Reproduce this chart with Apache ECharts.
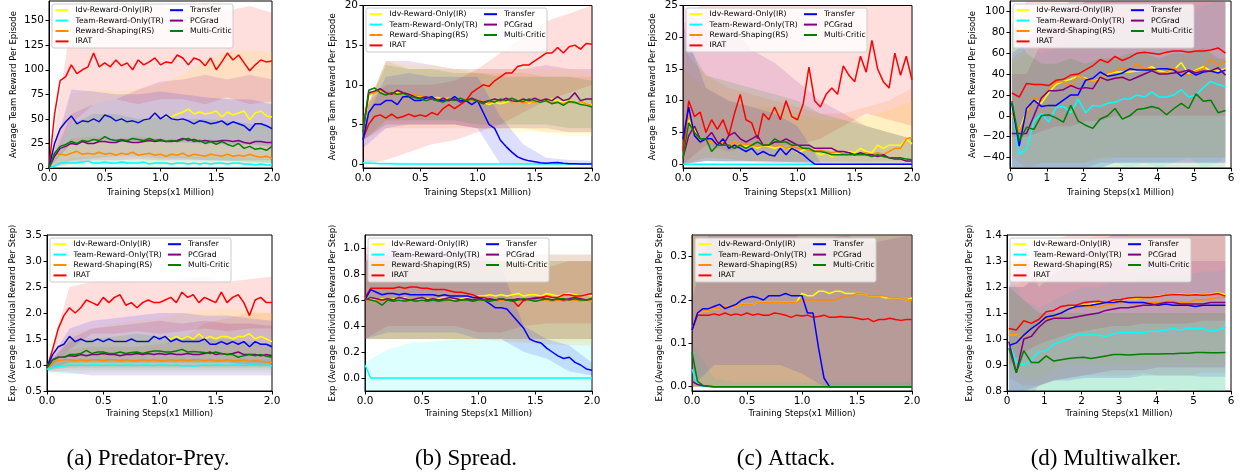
<!DOCTYPE html>
<html>
<head>
<meta charset="utf-8">
<script src="https://cdn.jsdelivr.net/npm/echarts@6/dist/echarts.min.js"></script>
<style>
  html, body { margin: 0; padding: 0; background: #fff; }
  #chart { width: 1241px; height: 474px; }
</style>
</head>
<body>
<div id="chart"></div>
<script>
const METHODS = ["Idv-Reward-Only(IR)", "Team-Reward-Only(TR)", "Reward-Shaping(RS)", "IRAT", "Transfer", "PCGrad", "Multi-Critic"];
const COLORS = ["#ffff00", "#00ffff", "#ff8c00", "#ff0000", "#0000ff", "#800080", "#008000"];

const TEAM_NAME = "Average Team Reward Per Episode";
const IND_NAME = "Exp (Average Individual Reward Per Step)";
const X_NAME = "Training Steps(x1 Million)";
const CAPTIONS = ["(a) Predator-Prey.", "(b) Spread.", "(c) Attack.", "(d) Multiwalker."];

// x positions (million steps)
const STEPS_2M = [0, 0.05, 0.1, 0.15, 0.2, 0.25, 0.3, 0.35, 0.4, 0.45, 0.5, 0.55, 0.6, 0.65, 0.7, 0.75, 0.8, 0.85, 0.9, 0.95, 1.0, 1.05, 1.1, 1.15, 1.2, 1.25, 1.3, 1.35, 1.4, 1.45, 1.5, 1.55, 1.6, 1.65, 1.7, 1.75, 1.8, 1.85, 1.9, 1.95, 2.0];
const STEPS_6M = [0.05, 0.25, 0.45, 0.65, 0.85, 1.05, 1.25, 1.45, 1.65, 1.85, 2.05, 2.25, 2.45, 2.65, 2.85, 3.05, 3.25, 3.45, 3.65, 3.85, 4.05, 4.25, 4.45, 4.65, 4.85, 5.05, 5.25, 5.45, 5.65, 5.85];
const BAND_2M = [0, 0.2, 0.4, 0.6, 0.8, 1.0, 1.2, 1.4, 1.6, 1.8, 2.0];
const BAND_6M = [0.05, 0.45, 0.85, 1.25, 1.65, 2.05, 2.45, 2.85, 3.25, 3.65, 4.05, 4.45, 4.85, 5.25, 5.65, 5.85];

// tick labels
const X_TICKS_2M = [0, 0.5, 1.0, 1.5, 2.0];
const X_TICKS_6M = [0, 1, 2, 3, 4, 5, 6];
const PP_TEAM_TICKS = [0, 25, 50, 75, 100, 125, 150];
const SPREAD_TEAM_TICKS = [0, 5, 10, 15, 20];
const ATTACK_TEAM_TICKS = [0, 5, 10, 15, 20, 25];
const WALKER_TEAM_TICKS = [-40, -20, 0, 20, 40, 60, 80, 100];
const PP_IND_TICKS = [0.5, 1.0, 1.5, 2.0, 2.5, 3.0, 3.5];
const SPREAD_IND_TICKS = [0, 0.2, 0.4, 0.6, 0.8, 1.0];
const ATTACK_IND_TICKS = [0, 0.1, 0.2, 0.3];
const WALKER_IND_TICKS = [0.8, 0.9, 1.0, 1.1, 1.2, 1.3, 1.4];

// ---- (a) Predator-Prey, team reward ----
const ppTeamMean = [
  [0, 25, 40, 47, 53, 45, 48, 47, 50, 47, 54, 52, 48, 50, 47, 48, 46, 49, 50, 56, 50, 53, 52, 55, 57, 60, 55, 57, 55, 56, 58, 52, 57, 54, 56, 58, 49, 56, 58, 53, 52],
  [0, 2, 5, 5, 5, 5, 6, 7, 5, 5, 6, 5, 5, 6, 5, 5, 5, 6, 4, 5, 5, 5, 4, 5, 5, 4, 5, 4, 5, 4, 5, 5, 4, 5, 5, 4, 4, 3, 4, 3, 3],
  [0, 15, 14, 13, 15, 17, 14, 15, 14, 16, 14, 15, 13, 15, 14, 16, 13, 14, 15, 13, 14, 12, 14, 13, 15, 12, 14, 13, 12, 14, 13, 12, 14, 12, 13, 12, 14, 12, 11, 12, 10],
  [0, 55, 89, 93, 105, 96, 100, 103, 117, 103, 107, 103, 110, 104, 107, 100, 110, 105, 108, 112, 105, 108, 107, 115, 112, 105, 112, 110, 104, 112, 100, 108, 117, 110, 115, 107, 99, 105, 110, 108, 109],
  [0, 25, 40, 47, 53, 45, 48, 47, 50, 47, 54, 52, 48, 50, 47, 48, 46, 49, 50, 56, 50, 54, 50, 49, 50, 48, 45, 48, 47, 45, 46, 48, 44, 47, 45, 43, 38, 45, 45, 43, 40],
  [0, 12, 20, 22, 25, 24, 27, 25, 25, 27, 27, 26, 26, 28, 27, 26, 26, 27, 28, 27, 28, 27, 27, 28, 30, 28, 29, 27, 28, 27, 27, 28, 28, 27, 28, 26, 25, 27, 27, 26, 26],
  [0, 15, 22, 24, 27, 25, 28, 27, 29, 28, 32, 29, 28, 29, 28, 30, 29, 28, 30, 28, 29, 27, 28, 27, 29, 30, 27, 28, 25, 27, 24, 27, 24, 22, 25, 20, 22, 19, 20, 18, 22]
];
const ppTeamLow = [
  [0, 25, 28, 30, 30, 28, 28, 30, 30, 28, 28],
  [0, 0, 0, 0, 0, 0, 0, 0, 0, 0, 0],
  [0, 3, 4, 4, 4, 3, 3, 3, 3, 3, 2],
  [0, 45, 65, 70, 65, 70, 70, 65, 72, 65, 68],
  [0, 25, 28, 28, 27, 27, 26, 25, 24, 24, 22],
  [0, 5, 8, 8, 9, 8, 8, 8, 7, 8, 8],
  [0, 8, 10, 12, 12, 10, 10, 8, 8, 6, 5]
];
const ppTeamHigh = [
  [0, 75, 80, 78, 80, 85, 95, 110, 118, 120, 118],
  [0, 10, 12, 12, 12, 11, 12, 11, 12, 10, 9],
  [0, 30, 32, 30, 32, 30, 30, 30, 28, 28, 25],
  [0, 150, 160, 158, 162, 165, 160, 168, 160, 165, 158],
  [0, 80, 78, 75, 75, 78, 75, 72, 70, 70, 65],
  [0, 55, 65, 70, 80, 88, 90, 95, 90, 95, 90],
  [0, 45, 55, 55, 50, 52, 50, 50, 48, 45, 42]
];

// ---- (b) Spread, team reward ----
const spreadTeamMean = [
  [4, 8.5, 9.3, 9.2, 9.0, 8.8, 9.0, 8.8, 8.8, 8.5, 8.5, 8.4, 8.3, 8.4, 8.2, 8.3, 8.0, 8.2, 8.0, 8.1, 8.0, 7.8, 7.5, 7.8, 7.6, 7.8, 8.0, 7.9, 8.1, 7.7, 8.0, 7.9, 8.0, 8.2, 8.0, 7.8, 8.0, 7.8, 7.9, 7.6, 7.5],
  [0.15, 0.1, 0.1, 0.05, 0.05, 0.05, 0, 0, 0, 0, 0, 0, 0, 0, 0, 0, 0, 0, 0, 0, 0, 0, 0, 0, 0, 0, 0, 0, 0, 0, 0, 0, 0, 0, 0, 0, 0, 0, 0, 0, 0],
  [4, 8.8, 9.0, 9.3, 9.0, 8.8, 8.7, 9.0, 8.8, 8.7, 8.6, 8.4, 8.3, 8.2, 8.0, 8.2, 8.1, 8.0, 8.2, 8.0, 8.1, 7.9, 7.8, 7.9, 8.0, 8.2, 7.8, 8.0, 7.7, 7.9, 7.8, 8.0, 7.9, 7.7, 7.8, 7.6, 7.8, 7.7, 7.9, 7.6, 7.4],
  [3.2, 5.0, 6.0, 6.2, 5.8, 6.3, 5.8, 6.0, 6.3, 6.0, 6.2, 6.0, 6.5, 6.2, 7.0, 7.5, 7.0, 7.5, 8.0, 9.0, 9.5, 10.0, 9.8, 10.5, 11.0, 11.5, 11.5, 12.3, 12.5, 12.5, 13.0, 13.5, 14.0, 14.0, 14.7, 14.0, 14.8, 15.0, 14.5, 15.2, 15.1],
  [3, 6.5, 7.5, 7.5, 8.0, 8.0, 7.5, 8.5, 8.5, 8.0, 8.0, 8.3, 8.5, 8.0, 8.0, 8.0, 8.5, 8.0, 8.0, 7.5, 8.0, 6.5, 5.0, 4.5, 3.0, 2.2, 1.5, 0.9, 0.6, 0.4, 0.3, 0.15, 0.1, 0.15, 0.2, 0.1, 0.05, 0.05, 0, 0, 0],
  [4, 9.0, 9.2, 9.5, 9.0, 8.8, 9.3, 9.0, 8.8, 8.5, 8.3, 8.5, 8.2, 8.0, 8.3, 8.0, 8.2, 7.8, 8.0, 8.3, 8.0, 7.8, 8.0, 8.2, 8.0, 8.3, 8.0, 7.9, 8.2, 8.0, 8.3, 8.0, 8.2, 8.0, 8.5, 8.0, 8.2, 9.0, 8.0, 8.2, 8.2],
  [4, 9.3, 9.6, 9.0, 8.7, 9.0, 8.8, 8.9, 8.6, 8.4, 8.2, 8.0, 8.2, 8.0, 7.8, 8.2, 8.0, 8.3, 8.0, 8.2, 7.9, 7.6, 8.0, 7.8, 8.2, 8.0, 8.3, 8.0, 7.9, 8.2, 8.0, 7.8, 8.0, 7.6, 7.8, 7.4, 7.9, 7.8, 7.5, 7.4, 7.2]
];
const spreadTeamLow = [
  [3, 5, 5, 5, 5, 4.5, 4, 4, 4, 3.5, 3.5],
  [0, 0, 0, 0, 0, 0, 0, 0, 0, 0, 0],
  [3, 4.5, 4.5, 4.5, 4.5, 4.5, 4.5, 4.5, 4, 4, 4],
  [0, 0.5, 1.5, 2.5, 3, 4, 5, 6.5, 8, 9, 10],
  [2, 4.5, 5, 5, 5, 4.5, 0, 0, 0, 0, 0],
  [3, 5, 5, 5, 5, 4.5, 4.5, 4.5, 4.5, 4, 4],
  [3, 5.5, 5.5, 5.5, 5.5, 5, 5, 5, 5, 4.5, 4.5]
];
const spreadTeamHigh = [
  [6, 13, 12.5, 12.5, 12, 12, 12, 12, 12, 12, 11.5],
  [0.6, 0.3, 0.2, 0.1, 0.1, 0.1, 0.1, 0.1, 0.1, 0.1, 0.1],
  [6, 13, 12, 12, 12, 11.5, 11.5, 11.5, 11, 11, 11],
  [7, 10, 10, 10, 10.5, 12, 14, 16, 18, 19, 20],
  [5, 11, 11.5, 11, 11, 11, 6, 2.5, 0.8, 0.5, 0.4],
  [6, 13, 13, 12.5, 12, 12, 12, 12, 12.5, 12, 12],
  [6, 12.5, 12, 12, 11.5, 11.5, 11, 11, 11, 11, 10.5]
];

// ---- (c) Attack, team reward ----
const attackTeamMean = [
  [1, 7, 5.5, 4, 4, 3.5, 3.5, 3.5, 3, 3.5, 3, 2.8, 3, 2.5, 3, 2.8, 2.5, 2.8, 2.5, 2.5, 1.8, 2.2, 2.5, 2, 1.5, 1.8, 1.2, 1.8, 1.5, 2, 1.8, 2.5, 2, 1.8, 3, 2.5, 3, 3, 3, 4, 3.2],
  [0, 0, 0, 0, 0, 0, 0, 0, 0, 0, 0, 0, 0, 0, 0, 0, 0, 0, 0, 0, 0, 0, 0, 0, 0, 0, 0, 0, 0, 0, 0, 0, 0, 0, 0, 0, 0, 0, 0, 0, 0],
  [2, 8, 5, 3.5, 4, 3.5, 3.5, 3.5, 3, 3.5, 3, 3.2, 3, 2.8, 3, 3.2, 2.8, 3, 2.5, 2.8, 2.5, 2.5, 2.2, 2, 2.2, 2, 1.8, 2, 1.6, 1.8, 1.5, 1.6, 1.8, 1.5, 1.8, 1.5, 2, 2.5, 2.5, 4, 4.2],
  [2, 10, 7.5, 8.2, 5, 7, 5.5, 7, 4.5, 8, 11, 7, 6.5, 4, 8, 7, 9, 7, 10, 7.5, 7, 9.5, 15.3, 10, 9, 11, 12, 11, 15.5, 14, 13, 17, 14.5, 19.5, 15, 13, 12, 17.5, 14, 17, 13.3],
  [4, 9, 4.5, 3.5, 4, 4, 3, 4, 2.5, 3, 2.5, 2, 2.5, 1.5, 2, 1.5, 1.3, 2.5, 1.5, 2.5, 2, 1.5, 0.7, 0, 0, 0, 0, 0, 0, 0, 0, 0, 0, 0, 0, 0, 0, 0, 0, 0, 0],
  [1, 4.5, 6, 4, 4, 5, 3.5, 3, 4.5, 5, 4, 3.5, 4, 4.5, 3, 3, 3.5, 3.5, 4, 3.5, 3, 3, 3, 2.5, 2.5, 2.5, 2.5, 2, 2, 1.8, 1.5, 1.8, 1.5, 1.5, 1.2, 1.5, 1, 0.8, 0.8, 0.5, 0.5],
  [1, 6.5, 5, 4, 4, 2, 3, 3, 3, 2.5, 3, 2.5, 3, 3.5, 3, 3, 4, 3.5, 3.5, 3, 3, 2.5, 2.5, 2, 2, 1.8, 1.5, 1.5, 1.5, 1.5, 1.5, 1.5, 1.5, 1.2, 1.5, 1.2, 1, 1, 1, 0.8, 0.7]
];
const attackTeamLow = [
  [0, 1, 0.8, 0.5, 0.5, 0.5, 0.4, 0.4, 0.4, 0.5, 0.5],
  [0, 0, 0, 0, 0, 0, 0, 0, 0, 0, 0],
  [0, 1, 0.8, 0.5, 0.5, 0.4, 0.4, 0.4, 0.4, 0.5, 0.5],
  [0, 3, 2, 3, 3, 3, 4, 6, 8, 7, 6],
  [0, 0.5, 0.3, 0.3, 0.2, 0.1, 0, 0, 0, 0, 0],
  [0, 0.5, 0.5, 0.5, 0.4, 0.3, 0.2, 0.2, 0.1, 0.1, 0.1],
  [0, 0.5, 0.5, 0.5, 0.4, 0.3, 0.3, 0.2, 0.2, 0.1, 0.1]
];
const attackTeamHigh = [
  [15, 12, 10, 9, 9, 8, 7, 7, 7.5, 8.5, 10],
  [0.3, 0.1, 0.1, 0.1, 0.1, 0.1, 0.1, 0.1, 0.1, 0.1, 0.1],
  [18, 14, 12, 11, 10, 9, 8, 8, 9, 10, 12],
  [22, 26, 27, 27, 27, 27, 28, 29, 30, 30, 30],
  [22, 12, 10, 9, 8, 6, 0.3, 0.1, 0.1, 0.1, 0.1],
  [25, 21, 22, 18, 16, 13, 10, 8, 6, 5, 4],
  [20, 14, 13, 12, 11, 10, 8, 7, 6, 5, 4]
];

// ---- (d) Multiwalker, team reward ----
const walkerTeamMean = [
  [2, -15, 5, 15, 12, 22, 30, 33, 35, 38, 36, 33, 35, 40, 42, 42, 42, 43, 44, 47, 43, 42, 44, 51, 40, 44, 47, 43, 43, 45],
  [12, -37, -32, -5, 2, -6, 8, 9, 3, 16, 3, 10, 9, 12, 13, 16, 16, 20, 18, 23, 18, 18, 20, 25, 18, 20, 27, 33, 30, 28],
  [3, -15, 0, 17, 15, 25, 32, 33, 28, 39, 35, 33, 34, 41, 43, 46, 44, 50, 45, 45, 40, 42, 46, 42, 39, 43, 45, 54, 49, 52],
  [22, 18, 31, 30, 30, 29, 34, 35, 39, 40, 44, 48, 54, 51, 57, 53, 56, 60, 61, 60, 59, 61, 62, 62, 61, 62, 62, 63, 65, 60],
  [12, -29, 7, 15, 9, 10, 10, 15, 20, 20, 34, 36, 42, 38, 39, 41, 45, 44, 44, 44, 45, 45, 44, 38, 43, 39, 42, 43, 41, 44],
  [-17, -17, -17, 0, 17, 24, 24, 25, 29, 26, 27, 26, 37, 34, 36, 37, 34, 37, 40, 43, 40, 40, 41, 42, 44, 41, 43, 43, 46, 39],
  [14, -24, -11, -13, 0, 1, -2, -6, 10, -5, -9, -12, -3, 0, 7, -3, 0, 6, 7, 9, 7, 1, 7, 12, 7, 21, 14, 15, 3, 5]
];
const walkerTeamLow = [
  [-30, -45, -45, -45, -45, -45, -45, -40, -40, -40, -40, -40, -40, -40, -40, -40],
  [-60, -80, -70, -60, -55, -50, -50, -45, -50, -45, -50, -45, -40, -50, -45, -40],
  [-40, -50, -45, -45, -45, -45, -40, -40, -40, -40, -40, -40, -40, -40, -40, -40],
  [-20, -20, -15, -10, -10, -5, -5, 0, 0, 0, 0, 0, 0, 0, 0, 0],
  [-50, -60, -55, -50, -50, -50, -50, -45, -45, -45, -45, -45, -45, -45, -45, -45],
  [-60, -60, -55, -50, -50, -50, -45, -45, -45, -45, -45, -45, -45, -45, -45, -45],
  [-60, -60, -60, -60, -60, -60, -60, -60, -60, -60, -60, -60, -60, -60, -60, -60]
];
const walkerTeamHigh = [
  [50, 60, 80, 100, 110, 115, 120, 120, 120, 120, 120, 120, 120, 120, 120, 120],
  [90, 70, 60, 65, 70, 75, 80, 85, 90, 95, 95, 100, 100, 105, 110, 110],
  [55, 65, 80, 90, 100, 110, 115, 120, 120, 120, 120, 120, 120, 120, 120, 120],
  [80, 110, 120, 120, 120, 120, 120, 120, 120, 120, 120, 120, 120, 120, 120, 120],
  [60, 70, 90, 100, 110, 120, 120, 120, 120, 120, 120, 120, 120, 120, 120, 120],
  [40, 40, 70, 90, 100, 110, 115, 120, 120, 120, 120, 120, 120, 120, 120, 120],
  [90, 60, 50, 50, 55, 50, 55, 55, 60, 60, 55, 60, 60, 65, 55, 55]
];

// ---- (a) Predator-Prey, exp individual reward ----
const ppIndMean = [
  [0.95, 1.2, 1.35, 1.4, 1.55, 1.45, 1.5, 1.45, 1.45, 1.5, 1.45, 1.5, 1.45, 1.45, 1.45, 1.5, 1.45, 1.45, 1.45, 1.55, 1.5, 1.55, 1.5, 1.55, 1.5, 1.55, 1.5, 1.6, 1.5, 1.55, 1.5, 1.55, 1.55, 1.5, 1.55, 1.55, 1.6, 1.5, 1.55, 1.5, 1.45],
  [0.92, 0.95, 0.97, 0.98, 1.0, 0.99, 1.0, 0.99, 1.0, 1.0, 0.99, 1.0, 1.0, 0.99, 1.0, 1.0, 0.99, 1.0, 1.0, 0.99, 1.0, 1.0, 0.99, 1.0, 0.98, 0.99, 0.98, 0.99, 1.0, 0.99, 1.0, 1.0, 0.99, 1.0, 1.0, 0.99, 1.0, 1.0, 0.99, 1.0, 0.98],
  [0.95, 1.05, 1.08, 1.1, 1.1, 1.08, 1.1, 1.08, 1.1, 1.1, 1.08, 1.1, 1.1, 1.08, 1.1, 1.08, 1.08, 1.1, 1.08, 1.1, 1.08, 1.08, 1.1, 1.08, 1.1, 1.08, 1.1, 1.1, 1.08, 1.1, 1.08, 1.08, 1.1, 1.08, 1.08, 1.1, 1.07, 1.08, 1.07, 1.06, 1.05],
  [0.95, 1.3, 1.7, 1.95, 2.1, 2.0, 2.1, 2.25, 2.2, 2.15, 2.3, 2.2, 2.3, 2.35, 2.15, 2.2, 2.1, 2.2, 2.25, 2.2, 2.2, 2.25, 2.3, 2.2, 2.4, 2.3, 2.35, 2.2, 2.3, 2.25, 2.2, 2.4, 2.2, 2.3, 2.35, 2.2, 1.95, 2.25, 2.3, 2.2, 2.2],
  [0.95, 1.2, 1.35, 1.4, 1.55, 1.45, 1.5, 1.45, 1.45, 1.5, 1.45, 1.5, 1.45, 1.45, 1.45, 1.5, 1.45, 1.45, 1.45, 1.55, 1.5, 1.55, 1.45, 1.5, 1.45, 1.45, 1.45, 1.45, 1.5, 1.4, 1.4, 1.45, 1.4, 1.45, 1.4, 1.45, 1.35, 1.45, 1.4, 1.4, 1.35],
  [0.95, 1.1, 1.15, 1.15, 1.18, 1.17, 1.2, 1.18, 1.2, 1.2, 1.22, 1.2, 1.2, 1.18, 1.2, 1.2, 1.22, 1.2, 1.22, 1.2, 1.22, 1.2, 1.22, 1.2, 1.2, 1.22, 1.2, 1.2, 1.22, 1.25, 1.2, 1.22, 1.2, 1.22, 1.25, 1.2, 1.2, 1.2, 1.18, 1.2, 1.18],
  [0.95, 1.1, 1.15, 1.15, 1.2, 1.2, 1.22, 1.28, 1.22, 1.25, 1.25, 1.22, 1.22, 1.25, 1.22, 1.24, 1.25, 1.22, 1.25, 1.27, 1.27, 1.25, 1.25, 1.27, 1.3, 1.25, 1.26, 1.25, 1.24, 1.22, 1.25, 1.22, 1.2, 1.2, 1.15, 1.18, 1.2, 1.18, 1.2, 1.17, 1.15]
];
const ppIndLow = [
  [0.9, 1.0, 1.05, 1.05, 1.05, 1.05, 1.05, 1.05, 1.05, 1.05, 1.05],
  [0.85, 0.82, 0.85, 0.85, 0.85, 0.85, 0.85, 0.85, 0.85, 0.85, 0.85],
  [0.88, 0.9, 0.9, 0.9, 0.9, 0.9, 0.9, 0.9, 0.9, 0.9, 0.9],
  [0.9, 1.3, 1.6, 1.6, 1.65, 1.6, 1.65, 1.7, 1.65, 1.7, 1.7],
  [0.9, 1.05, 1.05, 1.05, 1.05, 1.05, 1.05, 1.05, 1.05, 1.0, 1.0],
  [0.88, 0.85, 0.8, 0.8, 0.8, 0.8, 0.8, 0.8, 0.8, 0.8, 0.8],
  [0.9, 0.95, 0.95, 0.95, 0.95, 0.95, 0.95, 0.95, 0.95, 0.95, 0.95]
];
const ppIndHigh = [
  [1.0, 1.6, 1.7, 1.8, 1.85, 1.9, 2.0, 2.05, 2.1, 2.05, 2.0],
  [1.0, 1.1, 1.12, 1.12, 1.12, 1.12, 1.12, 1.12, 1.12, 1.12, 1.1],
  [1.0, 1.3, 1.35, 1.35, 1.35, 1.4, 1.5, 1.8, 1.9, 2.0, 2.0],
  [1.0, 2.5, 2.6, 2.65, 2.6, 2.6, 2.65, 2.7, 2.6, 2.65, 2.7],
  [1.0, 1.7, 1.85, 1.9, 1.95, 2.0, 2.0, 1.95, 1.95, 1.9, 1.85],
  [1.0, 1.5, 1.7, 1.75, 1.8, 1.85, 1.8, 1.85, 1.8, 1.8, 1.75],
  [1.0, 1.45, 1.5, 1.55, 1.6, 1.55, 1.55, 1.5, 1.5, 1.45, 1.4]
];

// ---- (b) Spread, exp individual reward ----
const spreadIndMean = [
  [0.62, 0.61, 0.6, 0.61, 0.6, 0.61, 0.6, 0.62, 0.6, 0.61, 0.6, 0.61, 0.6, 0.61, 0.62, 0.61, 0.6, 0.61, 0.62, 0.62, 0.63, 0.63, 0.64, 0.63, 0.64, 0.63, 0.64, 0.65, 0.63, 0.64, 0.64, 0.63, 0.65, 0.64, 0.63, 0.64, 0.65, 0.64, 0.63, 0.64, 0.63],
  [0.1, 0, 0, 0, 0, 0, 0, 0, 0, 0, 0, 0, 0, 0, 0, 0, 0, 0, 0, 0, 0, 0, 0, 0, 0, 0, 0, 0, 0, 0, 0, 0, 0, 0, 0, 0, 0, 0, 0, 0, 0],
  [0.6, 0.6, 0.59, 0.6, 0.59, 0.6, 0.59, 0.6, 0.59, 0.6, 0.59, 0.6, 0.59, 0.6, 0.59, 0.6, 0.59, 0.6, 0.6, 0.59, 0.6, 0.59, 0.6, 0.59, 0.6, 0.59, 0.6, 0.6, 0.59, 0.6, 0.59, 0.6, 0.6, 0.59, 0.6, 0.59, 0.6, 0.6, 0.59, 0.6, 0.59],
  [0.62, 0.69, 0.69, 0.69, 0.69, 0.69, 0.7, 0.69, 0.7, 0.7, 0.69, 0.69, 0.68, 0.68, 0.68, 0.67, 0.66, 0.66, 0.65, 0.64, 0.62, 0.62, 0.6, 0.6, 0.61, 0.6, 0.6, 0.55, 0.6, 0.61, 0.62, 0.62, 0.63, 0.62, 0.62, 0.64, 0.64, 0.63, 0.63, 0.64, 0.65],
  [0.6, 0.68, 0.66, 0.64, 0.65, 0.65, 0.64, 0.65, 0.64, 0.64, 0.64, 0.64, 0.64, 0.63, 0.64, 0.63, 0.63, 0.63, 0.63, 0.62, 0.62, 0.6, 0.57, 0.54, 0.54, 0.53, 0.48, 0.43, 0.38, 0.3, 0.28, 0.27, 0.23, 0.2, 0.17, 0.15, 0.16, 0.12, 0.1, 0.07, 0.06],
  [0.6, 0.62, 0.61, 0.6, 0.61, 0.6, 0.62, 0.61, 0.6, 0.61, 0.62, 0.6, 0.61, 0.6, 0.61, 0.62, 0.61, 0.6, 0.61, 0.6, 0.61, 0.6, 0.61, 0.6, 0.61, 0.6, 0.6, 0.61, 0.6, 0.61, 0.61, 0.62, 0.61, 0.6, 0.61, 0.6, 0.61, 0.62, 0.61, 0.6, 0.61],
  [0.61, 0.6, 0.59, 0.56, 0.6, 0.59, 0.6, 0.59, 0.6, 0.59, 0.6, 0.59, 0.6, 0.59, 0.6, 0.6, 0.59, 0.6, 0.6, 0.59, 0.6, 0.6, 0.59, 0.6, 0.61, 0.6, 0.59, 0.6, 0.61, 0.6, 0.59, 0.6, 0.61, 0.6, 0.61, 0.61, 0.6, 0.61, 0.6, 0.6, 0.61]
];
const spreadIndLow = [
  [0.3, 0.3, 0.3, 0.3, 0.3, 0.3, 0.3, 0.28, 0.28, 0.28, 0.28],
  [-0.2, -0.2, -0.2, -0.2, -0.2, -0.2, -0.2, -0.2, -0.2, -0.2, -0.2],
  [0.3, 0.3, 0.3, 0.3, 0.3, 0.3, 0.28, 0.27, 0.26, 0.25, 0.25],
  [0.3, 0.4, 0.4, 0.4, 0.4, 0.35, 0.35, 0.4, 0.42, 0.42, 0.42],
  [0.3, 0.35, 0.35, 0.35, 0.35, 0.3, 0.3, 0.2, 0.15, 0.05, 0.02],
  [0.3, 0.3, 0.3, 0.3, 0.3, 0.3, 0.3, 0.3, 0.3, 0.3, 0.3],
  [0.3, 0.3, 0.3, 0.3, 0.3, 0.3, 0.3, 0.3, 0.3, 0.3, 0.3]
];
const spreadIndHigh = [
  [0.9, 0.95, 0.95, 0.95, 0.95, 0.95, 0.95, 0.95, 0.95, 0.95, 0.95],
  [0.12, 0.22, 0.27, 0.28, 0.3, 0.3, 0.3, 0.3, 0.3, 0.3, 0.3],
  [0.9, 0.9, 0.9, 0.9, 0.9, 0.9, 0.9, 0.9, 0.9, 0.9, 0.9],
  [1.0, 1.05, 1.05, 1.0, 1.0, 0.95, 0.9, 0.85, 0.85, 0.9, 0.9],
  [0.9, 1.0, 1.0, 1.0, 1.0, 0.95, 0.85, 0.4, 0.3, 0.25, 0.12],
  [0.95, 0.95, 0.95, 0.95, 0.95, 0.95, 0.95, 0.95, 0.95, 0.95, 0.95],
  [0.9, 0.9, 0.9, 0.9, 0.9, 0.9, 0.9, 0.9, 0.9, 0.9, 0.9]
];

// ---- (c) Attack, exp individual reward ----
const attackIndMean = [
  [0.13, 0.17, 0.175, 0.175, 0.18, 0.18, 0.185, 0.185, 0.185, 0.19, 0.19, 0.19, 0.195, 0.195, 0.195, 0.195, 0.195, 0.195, 0.195, 0.195, 0.215, 0.21, 0.21, 0.22, 0.22, 0.215, 0.22, 0.22, 0.215, 0.215, 0.215, 0.215, 0.21, 0.21, 0.21, 0.205, 0.205, 0.205, 0.205, 0.2, 0.205],
  [0.04, 0.004, 0.001, 0, 0, 0, 0, 0, 0, 0, 0, 0, 0, 0, 0, 0, 0, 0, 0, 0, 0, 0, 0, 0, 0, 0, 0, 0, 0, 0, 0, 0, 0, 0, 0, 0, 0, 0, 0, 0, 0],
  [0.13, 0.17, 0.175, 0.175, 0.18, 0.18, 0.185, 0.185, 0.185, 0.19, 0.19, 0.19, 0.195, 0.195, 0.195, 0.195, 0.195, 0.195, 0.195, 0.195, 0.2, 0.2, 0.2, 0.2, 0.2, 0.2, 0.2, 0.205, 0.21, 0.21, 0.215, 0.215, 0.21, 0.21, 0.21, 0.21, 0.205, 0.205, 0.205, 0.2, 0.2],
  [0.13, 0.165, 0.165, 0.165, 0.168, 0.165, 0.17, 0.165, 0.168, 0.165, 0.17, 0.165, 0.168, 0.165, 0.165, 0.17, 0.168, 0.165, 0.16, 0.165, 0.163, 0.165, 0.16, 0.162, 0.165, 0.16, 0.16, 0.162, 0.16, 0.16, 0.158, 0.155, 0.157, 0.15, 0.155, 0.155, 0.158, 0.155, 0.153, 0.155, 0.155],
  [0.13, 0.17, 0.18, 0.18, 0.185, 0.19, 0.18, 0.185, 0.19, 0.2, 0.205, 0.208, 0.205, 0.2, 0.21, 0.21, 0.21, 0.215, 0.21, 0.21, 0.21, 0.17, 0.17, 0.09, 0.02, 0, 0, 0, 0, 0, 0, 0, 0, 0, 0, 0, 0, 0, 0, 0, 0],
  [0.012, 0.005, 0.002, 0.001, 0, 0, 0, 0, 0, 0, 0, 0, 0, 0, 0, 0, 0, 0, 0, 0, 0, 0, 0, 0, 0, 0, 0, 0, 0, 0, 0, 0, 0, 0, 0, 0, 0, 0, 0, 0, 0],
  [0.08, 0.012, 0.003, 0.001, 0, 0, 0, 0, 0, 0, 0, 0, 0, 0, 0, 0, 0, 0, 0, 0, 0, 0, 0, 0, 0, 0, 0, 0, 0, 0, 0, 0, 0, 0, 0, 0, 0, 0, 0, 0, 0]
];
const attackIndLow = [
  [0, 0, 0, 0, 0, 0, 0, 0, 0, 0, 0],
  [0, 0, 0, 0, 0, 0, 0, 0, 0, 0, 0],
  [0, 0, 0, 0, 0, 0, 0, 0, 0, 0, 0],
  [0, 0, 0, 0, 0, 0, 0, 0, 0, 0, 0],
  [0, 0.05, 0.05, 0.05, 0.05, 0.03, 0, 0, 0, 0, 0],
  [0, 0, 0, 0, 0, 0, 0, 0, 0, 0, 0],
  [0, 0, 0, 0, 0, 0, 0, 0, 0, 0, 0]
];
const attackIndHigh = [
  [0.35, 0.4, 0.4, 0.4, 0.4, 0.4, 0.4, 0.4, 0.4, 0.4, 0.4],
  [0.1, 0.02, 0.01, 0.01, 0.01, 0.01, 0.01, 0.01, 0.01, 0.01, 0.01],
  [0.35, 0.4, 0.4, 0.4, 0.4, 0.4, 0.4, 0.4, 0.4, 0.4, 0.4],
  [0.4, 0.4, 0.4, 0.4, 0.4, 0.4, 0.4, 0.4, 0.4, 0.4, 0.4],
  [0.4, 0.4, 0.4, 0.4, 0.4, 0.4, 0.4, 0.4, 0.4, 0.4, 0.4],
  [0.2, 0.4, 0.4, 0.4, 0.4, 0.33, 0.34, 0.35, 0.33, 0.34, 0.35],
  [0.35, 0.4, 0.4, 0.4, 0.4, 0.4, 0.4, 0.4, 0.4, 0.4, 0.4]
];

// ---- (d) Multiwalker, exp individual reward ----
const walkerIndMean = [
  [1.015, 1.015, 1.01, 1.04, 1.06, 1.08, 1.08, 1.1, 1.12, 1.125, 1.13, 1.135, 1.14, 1.14, 1.145, 1.15, 1.155, 1.155, 1.16, 1.16, 1.165, 1.168, 1.17, 1.172, 1.17, 1.172, 1.17, 1.172, 1.178, 1.17],
  [0.99, 0.91, 0.9, 0.92, 0.95, 0.955, 0.98, 0.99, 1.0, 1.015, 1.015, 1.015, 1.015, 1.01, 1.02, 1.025, 1.025, 1.025, 1.025, 1.03, 1.03, 1.035, 1.04, 1.035, 1.04, 1.04, 1.04, 1.03, 1.035, 1.045],
  [1.015, 1.015, 1.01, 1.04, 1.06, 1.08, 1.08, 1.1, 1.12, 1.12, 1.125, 1.125, 1.12, 1.13, 1.135, 1.14, 1.14, 1.135, 1.14, 1.14, 1.14, 1.145, 1.145, 1.14, 1.14, 1.15, 1.15, 1.155, 1.16, 1.16],
  [1.04, 1.035, 1.07, 1.06, 1.075, 1.105, 1.11, 1.125, 1.13, 1.13, 1.14, 1.143, 1.145, 1.14, 1.15, 1.152, 1.158, 1.16, 1.16, 1.16, 1.163, 1.168, 1.17, 1.17, 1.168, 1.17, 1.168, 1.17, 1.175, 1.165],
  [0.975, 0.985, 1.015, 1.04, 1.06, 1.085, 1.09, 1.1, 1.115, 1.125, 1.128, 1.13, 1.135, 1.14, 1.14, 1.145, 1.14, 1.14, 1.14, 1.135, 1.13, 1.135, 1.13, 1.13, 1.13, 1.125, 1.13, 1.13, 1.13, 1.13],
  [0.99, 0.87, 1.0, 1.01, 1.045, 1.07, 1.08, 1.08, 1.08, 1.085, 1.09, 1.095, 1.1, 1.11, 1.115, 1.12, 1.12, 1.125, 1.13, 1.13, 1.135, 1.14, 1.14, 1.135, 1.135, 1.135, 1.135, 1.14, 1.14, 1.14],
  [0.965, 0.87, 0.955, 0.91, 0.91, 0.935, 0.915, 0.92, 0.925, 0.928, 0.93, 0.925, 0.93, 0.935, 0.94, 0.94, 0.938, 0.94, 0.942, 0.942, 0.942, 0.943, 0.943, 0.945, 0.945, 0.948, 0.948, 0.947, 0.947, 0.948]
];
const walkerIndLow = [
  [0.9, 0.85, 0.85, 0.88, 0.9, 0.9, 0.9, 0.9, 0.9, 0.9, 0.9, 0.9, 0.9, 0.9, 0.9, 0.9],
  [0.78, 0.75, 0.75, 0.75, 0.76, 0.78, 0.78, 0.79, 0.8, 0.8, 0.81, 0.8, 0.81, 0.8, 0.8, 0.8],
  [0.85, 0.82, 0.82, 0.84, 0.85, 0.86, 0.86, 0.86, 0.86, 0.87, 0.86, 0.86, 0.86, 0.87, 0.87, 0.87],
  [0.9, 0.95, 0.98, 1.0, 1.02, 1.03, 1.04, 1.05, 1.05, 1.06, 1.06, 1.06, 1.06, 1.07, 1.07, 1.07],
  [0.8, 0.8, 0.82, 0.84, 0.84, 0.85, 0.85, 0.85, 0.85, 0.86, 0.86, 0.86, 0.86, 0.855, 0.855, 0.855],
  [0.8, 0.75, 0.82, 0.84, 0.85, 0.86, 0.87, 0.88, 0.88, 0.88, 0.89, 0.89, 0.89, 0.89, 0.89, 0.89],
  [0.7, 0.7, 0.7, 0.7, 0.7, 0.7, 0.7, 0.7, 0.7, 0.7, 0.7, 0.7, 0.7, 0.7, 0.7, 0.7]
];
const walkerIndHigh = [
  [1.2, 1.2, 1.25, 1.25, 1.3, 1.3, 1.35, 1.35, 1.4, 1.4, 1.4, 1.45, 1.45, 1.45, 1.45, 1.45],
  [1.25, 1.15, 1.12, 1.15, 1.18, 1.2, 1.2, 1.22, 1.22, 1.24, 1.25, 1.25, 1.25, 1.26, 1.26, 1.27],
  [1.2, 1.22, 1.25, 1.3, 1.35, 1.38, 1.4, 1.42, 1.42, 1.45, 1.45, 1.45, 1.45, 1.45, 1.45, 1.45],
  [1.3, 1.3, 1.35, 1.38, 1.4, 1.45, 1.45, 1.45, 1.45, 1.45, 1.45, 1.45, 1.45, 1.45, 1.45, 1.45],
  [1.2, 1.2, 1.25, 1.28, 1.3, 1.35, 1.38, 1.4, 1.42, 1.42, 1.42, 1.42, 1.42, 1.42, 1.42, 1.42],
  [1.2, 1.35, 1.2, 1.25, 1.28, 1.3, 1.3, 1.3, 1.3, 1.3, 1.3, 1.3, 1.3, 1.3, 1.3, 1.3],
  [1.2, 1.15, 1.1, 1.1, 1.1, 1.1, 1.1, 1.1, 1.1, 1.1, 1.1, 1.1, 1.1, 1.1, 1.1, 1.1]
];

// panel layout: grid = [left, top, width, height]
const PANELS = [
  { mean: ppTeamMean, low: ppTeamLow, high: ppTeamHigh, x: STEPS_2M, bx: BAND_2M, xMax: 2, xTicks: X_TICKS_2M, xDig: 1, yMin: 0, yMax: 170, yTicks: PP_TEAM_TICKS, yDig: 0, yName: TEAM_NAME, grid: [49, 1, 223, 167], yGap: 31, xGap: 20 },
  { mean: spreadTeamMean, low: spreadTeamLow, high: spreadTeamHigh, x: STEPS_2M, bx: BAND_2M, xMax: 2, xTicks: X_TICKS_2M, xDig: 1, yMin: -0.5, yMax: 20, yTicks: SPREAD_TEAM_TICKS, yDig: 0, yName: TEAM_NAME, grid: [363, 5, 229, 163], yGap: 25.5, xGap: 20 },
  { mean: attackTeamMean, low: attackTeamLow, high: attackTeamHigh, x: STEPS_2M, bx: BAND_2M, xMax: 2, xTicks: X_TICKS_2M, xDig: 1, yMin: -0.6, yMax: 25, yTicks: ATTACK_TEAM_TICKS, yDig: 0, yName: TEAM_NAME, grid: [683, 5, 229, 163], yGap: 25.5, xGap: 20 },
  { mean: walkerTeamMean, low: walkerTeamLow, high: walkerTeamHigh, x: STEPS_6M, bx: BAND_6M, xMax: 6, xTicks: X_TICKS_6M, xDig: 0, yMin: -50, yMax: 110, yTicks: WALKER_TEAM_TICKS, yDig: 0, yName: TEAM_NAME, grid: [1010, 1, 221, 167], yGap: 32.5, xGap: 20 },
  { mean: ppIndMean, low: ppIndLow, high: ppIndHigh, x: STEPS_2M, bx: BAND_2M, xMax: 2, xTicks: X_TICKS_2M, xDig: 1, yMin: 0.5, yMax: 3.5, yTicks: PP_IND_TICKS, yDig: 1, yName: IND_NAME, grid: [47, 235, 225, 156], yGap: 29.5, xGap: 18.5 },
  { mean: spreadIndMean, low: spreadIndLow, high: spreadIndHigh, x: STEPS_2M, bx: BAND_2M, xMax: 2, xTicks: X_TICKS_2M, xDig: 1, yMin: -0.1, yMax: 1.1, yTicks: SPREAD_IND_TICKS, yDig: 1, yName: IND_NAME, grid: [365, 235, 227, 156], yGap: 27.5, xGap: 18.5 },
  { mean: attackIndMean, low: attackIndLow, high: attackIndHigh, x: STEPS_2M, bx: BAND_2M, xMax: 2, xTicks: X_TICKS_2M, xDig: 1, yMin: -0.01, yMax: 0.35, yTicks: ATTACK_IND_TICKS, yDig: 1, yName: IND_NAME, grid: [692, 235, 220, 156], yGap: 27.5, xGap: 18.5 },
  { mean: walkerIndMean, low: walkerIndLow, high: walkerIndHigh, x: STEPS_6M, bx: BAND_6M, xMax: 6, xTicks: X_TICKS_6M, xDig: 0, yMin: 0.8, yMax: 1.4, yTicks: WALKER_IND_TICKS, yDig: 1, yName: IND_NAME, grid: [1007, 235, 224, 156], yGap: 32.5, xGap: 18.5 }
];
const CAPTION_X = [148, 466, 786, 1106];

const fmt = (v, d) => v.toFixed(d).replace("-", "\u2212");

// one polygon per band, placed with the axis scales of its grid
function bandRenderer(bx, low, high, color) {
  return function (params, api) {
    if (params.dataIndex !== 0) return null;
    const pts = [];
    for (let i = 0; i < bx.length; i++) pts.push(api.coord([bx[i], high[i]]));
    for (let i = bx.length - 1; i >= 0; i--) pts.push(api.coord([bx[i], low[i]]));
    const cs = params.coordSys;
    return {
      type: "polygon",
      shape: { points: pts },
      style: { fill: color, opacity: 0.13 },
      clipPath: { type: "rect", shape: { x: cs.x, y: cs.y, width: cs.width, height: cs.height } }
    };
  };
}

const option = {
  animation: false,
  textStyle: { fontFamily: "DejaVu Sans" },
  grid: [], xAxis: [], yAxis: [], series: [], legend: [], graphic: [], title: []
};

PANELS.forEach((p, gi) => {
  const [gl, gt, gw, gh] = p.grid;
  option.grid.push({ left: gl, top: gt, width: gw, height: gh, show: true, borderColor: "#000", borderWidth: 1 });
  option.xAxis.push({
    type: "value", gridIndex: gi, min: 0, max: p.xMax,
    name: X_NAME, nameLocation: "middle", nameGap: p.xGap,
    nameTextStyle: { fontSize: 8.5, color: "#000" },
    axisLine: { show: true, onZero: false, lineStyle: { color: "#000", width: 1 } },
    axisTick: { show: true, length: 3.5, lineStyle: { color: "#000" }, customValues: p.xTicks },
    axisLabel: { customValues: p.xTicks, fontSize: 10.5, color: "#000", margin: 5, formatter: v => fmt(v, p.xDig) },
    splitLine: { show: false }
  });
  option.yAxis.push({
    type: "value", gridIndex: gi, min: p.yMin, max: p.yMax,
    name: p.yName, nameLocation: "middle", nameGap: p.yGap, nameRotate: 90,
    nameTextStyle: { fontSize: 8.5, color: "#000" },
    axisLine: { show: true, onZero: false, lineStyle: { color: "#000", width: 1 } },
    axisTick: { show: true, length: 3.5, lineStyle: { color: "#000" }, customValues: p.yTicks },
    axisLabel: { customValues: p.yTicks, fontSize: 10.5, color: "#000", margin: 5, formatter: v => fmt(v, p.yDig) },
    splitLine: { show: false }
  });

  p.low.forEach((low, k) => {
    const high = p.high[k];
    option.series.push({
      type: "custom", xAxisIndex: gi, yAxisIndex: gi, silent: true, z: 1,
      data: p.bx.map((x, i) => [x, low[i], high[i]]),
      encode: { x: 0, y: [1, 2] },
      renderItem: bandRenderer(p.bx, low, high, COLORS[k])
    });
  });

  p.mean.forEach((vals, k) => {
    option.series.push({
      type: "line", name: METHODS[k], xAxisIndex: gi, yAxisIndex: gi,
      data: p.x.map((x, i) => [x, vals[i]]),
      symbol: "none", color: COLORS[k], itemStyle: { color: COLORS[k] },
      lineStyle: { width: 1.5, color: COLORS[k] }, silent: true, z: 2
    });
  });

  option.graphic.push({
    type: "rect", z: 3, silent: true,
    shape: { x: gl + 3, y: gt + 3, width: 181, height: 44, r: 2 },
    style: { fill: "rgba(255,255,255,0.8)", stroke: "#cccccc", lineWidth: 1 }
  });
  const legendBase = {
    orient: "vertical", top: gt + 4, itemGap: 0, itemWidth: 13, itemHeight: 2,
    icon: "rect", padding: 0, selectedMode: false,
    textStyle: { fontSize: 7.7, lineHeight: 10.4, color: "#000", padding: [0, 0, 0, 2] }
  };
  option.legend.push(Object.assign({}, legendBase, { left: gl + 6.5, data: METHODS.slice(0, 4) }));
  option.legend.push(Object.assign({}, legendBase, { left: gl + 121, data: METHODS.slice(4) }));
});

CAPTIONS.forEach((c, i) => {
  option.title.push({
    text: c, left: CAPTION_X[i], top: 447, textAlign: "center", padding: 0,
    textStyle: { fontFamily: "Liberation Serif", fontSize: 23, fontWeight: "normal", color: "#000", lineHeight: 24 }
  });
});

const chart = echarts.init(document.getElementById("chart"));
chart.setOption(option);
</script>
</body>
</html>
